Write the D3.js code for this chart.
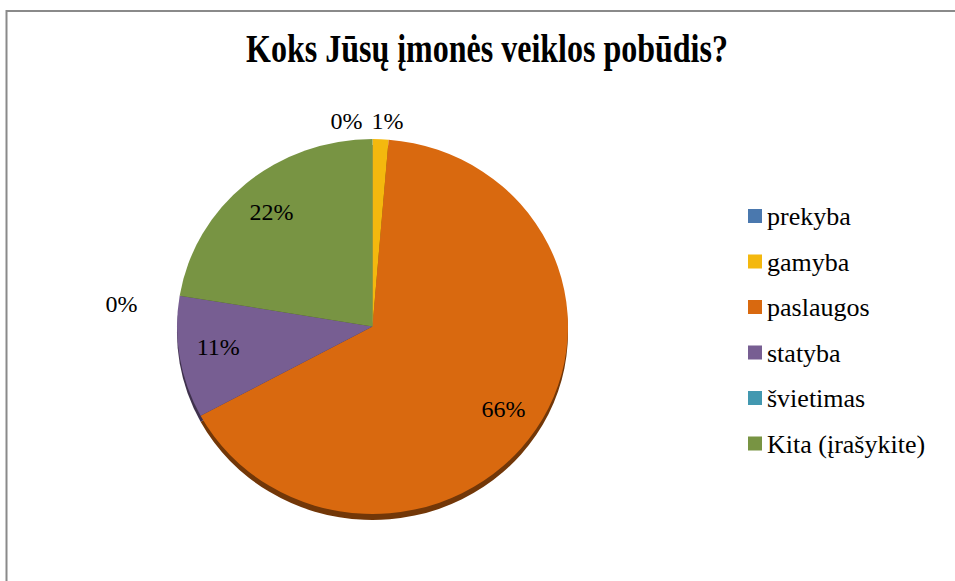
<!DOCTYPE html>
<html>
<head>
<meta charset="utf-8">
<script src="https://cdn.jsdelivr.net/npm/d3@7"></script>
<style>
  html, body { margin: 0; padding: 0; background: #fff; }
  svg { display: block; }
</style>
</head>
<body>
<svg id="chart" width="955" height="581"></svg>
<script>
// ---- data ----
const title = "Koks Jūsų įmonės veiklos pobūdis?";
const categories = ["prekyba", "gamyba", "paslaugos", "statyba", "švietimas", "Kita (įrašykite)"];
const counts = [0, 1, 50, 8, 0, 17];
const colors = ["#4A78AE", "#F4B80E", "#D9690F", "#775E92", "#4298B0", "#789443"];

// ---- layout ----
const FONT = "'Liberation Serif', 'Times New Roman', Tinos, 'DejaVu Serif', serif";
const svg = d3.select("#chart").attr("font-family", FONT);

// outer chart border
svg.append("rect")
  .attr("x", 6.5).attr("y", 11)
  .attr("width", 1000).attr("height", 700)
  .attr("fill", "#fff")
  .attr("stroke", "#8a8a8a")
  .attr("stroke-width", 2);

// title
svg.append("text")
  .attr("transform", "translate(487,62) scale(0.8,1)")
  .attr("text-anchor", "middle")
  .attr("font-size", 40)
  .attr("font-weight", "bold")
  .text(title);

const cx = 372.5, cy = 326.5, rx = 195.5, ry = 187.5, depth = 6;
const total = d3.sum(counts);
const data = categories.map((c, i) => ({ cat: c, value: counts[i], color: colors[i] }));

const pie = d3.pie().sort(null).value(d => d.value);
const arcs = pie(data);
const arc = d3.arc().innerRadius(0).outerRadius(rx);

const pieG = svg.append("g").attr("transform", `translate(${cx},${cy}) scale(1,${ry / rx})`);

// 3D-ish side (depth) behind the top face
pieG.append("g")
  .attr("transform", `translate(0,${depth * rx / ry})`)
  .selectAll("path")
  .data(arcs.filter(a => a.value > 0))
  .join("path")
  .attr("d", arc)
  .attr("fill", d => d3.color(d.data.color).darker(1.8));

pieG.append("g")
  .selectAll("path")
  .data(arcs.filter(a => a.value > 0))
  .join("path")
  .attr("d", arc)
  .attr("fill", d => d.data.color);

// data labels
const fmt = v => Math.round(v / total * 100) + "%";
const labelG = svg.append("g").attr("font-size", 24);
arcs.forEach(a => {
  const mid = (a.startAngle + a.endAngle) / 2;
  const share = a.value / total;
  let r, anchor = "middle", dx = 0, dy = 0;
  if (share > 0.05) {
    r = 0.8; dy = share < 0.15 ? -5 : 0;
  } else if (a.value > 0) {
    r = 1.1; dx = 6;
  } else {
    const left = a.startAngle > Math.PI;
    r = 1.1; anchor = "end"; dx = left ? -23 : -10; dy = left ? 11 : 0;
  }
  const x = cx + Math.sin(mid) * rx * r + dx;
  const y = cy - Math.cos(mid) * ry * r + dy;
  labelG.append("text")
    .attr("x", x).attr("y", y)
    .attr("dy", "0.35em")
    .attr("text-anchor", anchor)
    .text(fmt(a.value));
});

// legend
const legend = svg.append("g").attr("transform", "translate(748,216)");
const rowH = 45.5;
const items = legend.selectAll("g").data(data).join("g")
  .attr("transform", (d, i) => `translate(0,${i * rowH})`);
items.append("rect")
  .attr("x", 0).attr("y", -7)
  .attr("width", 14).attr("height", 14)
  .attr("fill", d => d.color);
items.append("text")
  .attr("x", 19).attr("y", 0)
  .attr("dy", "0.35em")
  .attr("font-size", 26)
  .text(d => d.cat);
</script>
</body>
</html>
